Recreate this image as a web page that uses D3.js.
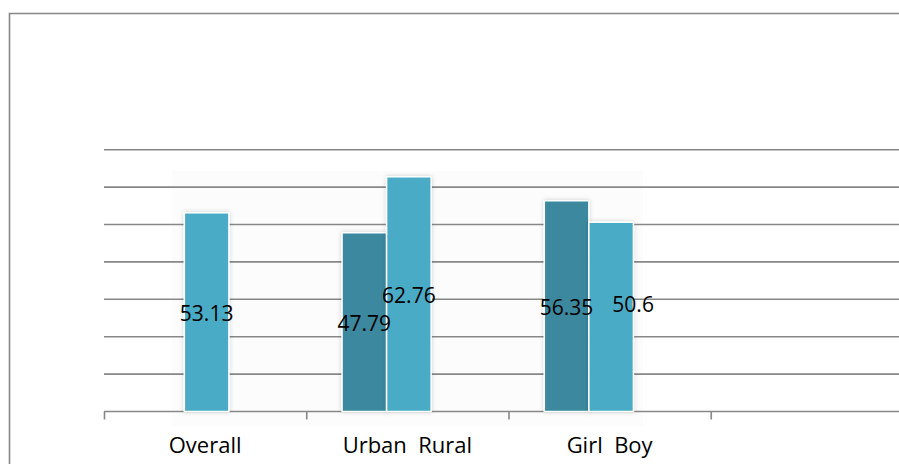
<!DOCTYPE html>
<html>
<head>
<meta charset="utf-8">
<script src="https://cdn.jsdelivr.net/npm/d3@7"></script>
<style>
  body { margin: 0; background: #fff; }
  text { font-family: "Open Sans", sans-serif; fill: #000; }
</style>
</head>
<body>
<div id="chart-area"></div>
<script>
// chart data
const categories = ["Overall", "Urban\u00a0\u00a0Rural", "Girl\u00a0\u00a0Boy", ""];
const seriesNames = ["first", "second", "third"];
const firstValues = [null, 47.79, 56.35, null];   // Urban, Girl
const secondValues = [53.13, 62.76, 50.6, null];  // Overall, Rural, Boy
const yTicks = [0, 10, 20, 30, 40, 50, 60, 70];

// label nudges (the 50.6 label was dragged in the original)
const secondNudge = [[0, 0], [0, 0], [22, -13], [0, 0]];

const W = 899, H = 464;

const svg = d3.select("#chart-area")
    .append("svg")
    .attr("width", W)
    .attr("height", H);

// drop shadow for the bars
const defs = svg.append("defs");
const f = defs.append("filter").attr("id", "shadow")
    .attr("x", "-30%").attr("y", "-10%").attr("width", "160%").attr("height", "120%");
f.append("feDropShadow")
    .attr("dx", 0).attr("dy", 0).attr("stdDeviation", 2)
    .attr("flood-color", "#000").attr("flood-opacity", 0.18);

// outer frame
svg.append("path")
    .attr("d", "M9.5," + H + "V13.5H" + W)
    .attr("fill", "none")
    .attr("stroke", "#888")
    .attr("stroke-width", 1.6);

// faint inner panel
svg.append("rect")
    .attr("x", 172).attr("y", 171)
    .attr("width", 471).attr("height", 255)
    .attr("fill", "#fcfcfc");

// scales
const x0 = d3.scaleBand()
    .domain(categories)
    .range([104, 913])
    .paddingInner(0).paddingOuter(0);

const x1 = d3.scaleBand()
    .domain(seriesNames)
    .range([-x0.bandwidth() / 2, x0.bandwidth() / 2])
    .paddingInner(0)
    .paddingOuter(0.77);

const y = d3.scaleLinear()
    .domain([0, 70])
    .range([411.5, 149.7]);

// gridlines
svg.append("g")
    .selectAll("line")
    .data(yTicks)
    .enter().append("line")
    .attr("x1", 104).attr("x2", W)
    .attr("y1", d => y(d)).attr("y2", d => y(d))
    .attr("stroke", "#878787")
    .attr("stroke-width", 1.6);

// category ticks
svg.append("g")
    .selectAll("line")
    .data(categories)
    .enter().append("line")
    .attr("x1", d => x0(d) + 0.5).attr("x2", d => x0(d) + 0.5)
    .attr("y1", y(0)).attr("y2", y(0) + 8)
    .attr("stroke", "#878787")
    .attr("stroke-width", 1.6);

// bars
const series = [
    {name: "first", values: firstValues, color: "#3a889f", nudge: null},
    {name: "second", values: secondValues, color: "#4aabc5", nudge: secondNudge}
];

const barW = x1.bandwidth();
const barsG = svg.append("g");
const labelsG = svg.append("g");

series.forEach(function (s) {
    const rows = categories.map((c, i) => ({cat: c, v: s.values[i], i: i}))
        .filter(d => d.v != null);

    const bx = d => x0(d.cat) + x0.bandwidth() / 2 + x1(s.name) + 1.5;

    barsG.append("g")
        .selectAll("rect")
        .data(rows)
        .enter().append("rect")
        .attr("x", d => bx(d))
        .attr("y", d => y(d.v))
        .attr("width", barW)
        .attr("height", d => y(0) - y(d.v))
        .attr("fill", s.color)
        .attr("stroke", "#fff")
        .attr("stroke-width", 1.5)
        .attr("filter", "url(#shadow)");

    labelsG.append("g")
        .selectAll("text")
        .data(rows)
        .enter().append("text")
        .attr("x", d => bx(d) + barW / 2 + (s.nudge ? s.nudge[d.i][0] : 0))
        .attr("y", d => (y(d.v) + y(0)) / 2 + 8.5 + (s.nudge ? s.nudge[d.i][1] : 0))
        .attr("text-anchor", "middle")
        .style("font-size", "21px")
        .text(d => d.v);
});

// category labels
svg.append("g")
    .selectAll("text")
    .data(categories)
    .enter().append("text")
    .attr("x", d => x0(d) + x0.bandwidth() / 2)
    .attr("y", 453)
    .attr("text-anchor", "middle")
    .style("font-size", "22px")
    .text(d => d);
</script>
</body>
</html>
